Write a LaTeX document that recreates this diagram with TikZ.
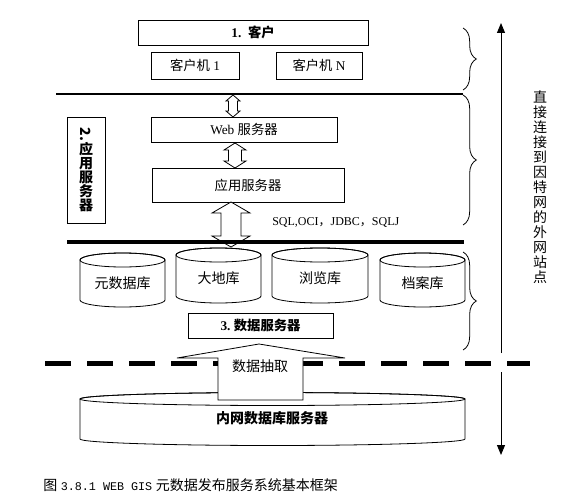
\documentclass[tikz,border=0pt]{standalone}
\usepackage{graphicx}
\usepackage{fontspec}
\setmainfont{Liberation Serif}
\setmonofont{Liberation Mono}
\newfontfamily\cjk{Noto Sans CJK SC}
\usetikzlibrary{arrows.meta,decorations.pathreplacing}

\newcommand\zh[1]{{\cjk #1}}
% hollow double arrow: x, top, bottom, shaft half, head half, head length
\newcommand\dblarrow[6]{%
  \filldraw[fill=white, line width=0.6pt] (#1,-#2) -- (#1+#5,-#2-#6) -- (#1+#4,-#2-#6)
    -- (#1+#4,-#3+#6) -- (#1+#5,-#3+#6) -- (#1,-#3) -- (#1-#5,-#3+#6)
    -- (#1-#4,-#3+#6) -- (#1-#4,-#2-#6) -- (#1-#5,-#2-#6) -- cycle;}

\tikzset{
  box/.style={draw, line width=0.6pt, inner sep=0pt, font=\fontsize{10}{12}\selectfont},
  brc/.style={decorate, decoration={brace, amplitude=10pt}, line width=0.6pt},
  bigarrow/.style={line width=0.75pt, -{Triangle[length=7.5pt,width=6pt]}}
}

\begin{document}
\begin{tikzpicture}[x=0.75pt,y=0.75pt]
    \useasboundingbox (0,0) rectangle (584,-499);

    %----------------------------------------
    % 1. CLIENTS
    %----------------------------------------
    \node[box, minimum width=172.5pt, minimum height=18.75pt] (client) at (253,-32.5)
        {\textbf{1.\ \ \zh{客户}}};
    \node[box, minimum width=66pt, minimum height=20.25pt] (client1) at (195,-65.5)
        {\zh{客户机} 1};
    \node[box, minimum width=64.5pt, minimum height=20.25pt] (clientN) at (319,-65.5)
        {\zh{客户机} N};

    \draw[line width=1.5pt] (56,-94) -- (463,-94);

    %----------------------------------------
    % 2. APPLICATION SERVERS
    %----------------------------------------
    \node[box, minimum width=139.5pt, minimum height=18.75pt] (web) at (244,-129.5)
        {Web \zh{服务器}};
    \node[box, minimum width=144pt, minimum height=25.5pt] (app) at (248,-185)
        {\zh{应用服务器}};
    \node[box, minimum width=28.5pt, minimum height=79.5pt, align=center,
          font=\cjk\bfseries\fontsize{10.5}{10.5}\selectfont] (appsrv) at (86,-170)
        {\rotatebox{-90}{2.}\\应\\用\\服\\务\\器};

    \dblarrow{233}{95}{117}{4.5}{7}{6}
    \dblarrow{235}{143}{168}{6.5}{11}{7}
    \dblarrow{231}{202}{247}{10}{19}{11}

    \node[anchor=west, inner sep=0pt, font=\fontsize{9}{10}\selectfont] (sql) at (272,-222)
        {SQL,OCI\zh{，}JDBC\zh{，}SQLJ};

    \draw[line width=3pt] (67,-242) -- (464,-242);

    %----------------------------------------
    % 3. DATA SERVERS (cylinders)
    %----------------------------------------
    \def\ry{7}
    \foreach \nm/\xa/\xb/\yt/\yb/\ty/\txt in {
      % FORMAT: name / left / right / top / bottom / text y / label
        meta/80/165/260/300/283/元数据库,
        geo/176/261/255/296/278/大地库,
        browse/272/368/255/296/278/浏览库,
        archive/380/465/260/300/283/档案库
    }{
       \pgfmathsetmacro\rx{(\xb-\xa)/2}
       \filldraw[fill=white, line width=0.6pt] (\xa,-\yt) -- (\xa,-\yb)
           arc[start angle=180, end angle=360, x radius=\rx, y radius=\ry]
           -- (\xb,-\yt) arc[start angle=0, end angle=180, x radius=\rx, y radius=\ry] -- cycle;
       \draw[line width=0.6pt] (\xa+\rx,-\yt) ellipse[x radius=\rx, y radius=\ry];
       \node[font=\cjk\fontsize{10.5}{12}\selectfont] (\nm) at (\xa+\rx,-\ty) {\txt};
    }

    \node[box, minimum width=108.75pt, minimum height=18.75pt] (datasrv) at (260.5,-325.5)
        {\textbf{3.\ \zh{数据服务器}}};

    %----------------------------------------
    % INTRANET DATABASE SERVER
    %----------------------------------------
    \draw[line width=3.75pt, dash pattern=on 19.5pt off 12pt] (45,-363.5) -- (530,-363.5);

    \filldraw[fill=white, line width=0.6pt] (80,-399) -- (80,-439)
        arc[start angle=180, end angle=360, x radius=192.5, y radius=6.5]
        -- (465,-399) arc[start angle=0, end angle=180, x radius=192.5, y radius=6.5] -- cycle;
    \draw[line width=0.6pt] (272.5,-399) ellipse[x radius=192.5, y radius=6.5];
    \node[font=\cjk\bfseries\fontsize{10.5}{12}\selectfont] (intranet) at (272,-418)
        {内网数据库服务器};

    % extraction arrow
    \filldraw[fill=white, line width=0.6pt] (218,-400) -- (218,-358) -- (177,-358)
        -- (259,-344) -- (345,-358) -- (303,-358) -- (303,-400) -- cycle;
    \node[font=\cjk\fontsize{10.5}{12}\selectfont] (extract) at (260,-366) {数据抽取};

    %----------------------------------------
    % BRACES AND SIDE ARROW
    %----------------------------------------
    \coordinate (b1t) at (463,-28);  \coordinate (b1b) at (463,-90);
    \coordinate (b2t) at (463,-95);  \coordinate (b2b) at (463,-225);
    \coordinate (b3t) at (463,-252); \coordinate (b3b) at (463,-350);
    \draw[brc] (b1t) -- (b1b);
    \draw[brc] (b2t) -- (b2b);
    \draw[brc] (b3t) -- (b3b);

    \coordinate (vtop) at (501,-23);  \coordinate (vgapa) at (501,-353);
    \coordinate (vbot) at (501,-455); \coordinate (vgapb) at (501,-372);
    \draw[bigarrow] (vgapa) -- (vtop);
    \draw[bigarrow] (vgapb) -- (vbot);

    \node[align=center, inner sep=0pt, font=\cjk\fontsize{10.5}{11.25}\selectfont] (outside) at (540,-187)
        {直\\接\\连\\接\\到\\因\\特\\网\\的\\外\\网\\站\\点};

    %----------------------------------------
    % CAPTION
    %----------------------------------------
    \node[anchor=west, inner sep=0pt, font=\fontsize{10.5}{12}\selectfont] (caption) at (43,-485)
        {\zh{图} {\ttfamily\fontsize{8.8}{12}\selectfont 3.8.1 WEB GIS} \zh{元数据发布服务系统基本框架}};

\end{tikzpicture}
\end{document}
